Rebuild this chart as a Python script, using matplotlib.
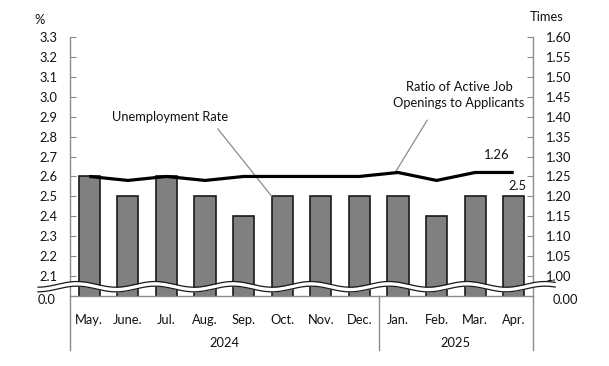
import numpy as np
import matplotlib.pyplot as plt

months = ['May.', 'June.', 'Jul.', 'Aug.', 'Sep.', 'Oct.', 'Nov.', 'Dec.',
          'Jan.', 'Feb.', 'Mar.', 'Apr.']
years = ['2024', '2025']
year_spans = [(0, 8), (8, 12)]
unemployment = [2.6, 2.5, 2.6, 2.5, 2.4, 2.5, 2.5, 2.5, 2.5, 2.4, 2.5, 2.5]
ratio = [1.25, 1.24, 1.25, 1.24, 1.25, 1.25, 1.25, 1.25, 1.26, 1.24, 1.26, 1.26]

plt.rcParams['font.family'] = ['Lato', 'DejaVu Sans']
txt = '#111111'
grey = '#8c8c8c'
fs = 9.3

W, H = 609, 366
fig = plt.figure(figsize=(W / 100, H / 100), dpi=100)
ax = fig.add_axes([70 / W, 1 - 296 / H, 463 / W, 259 / H])
ax2 = ax.twinx()

x = np.arange(len(months))
ax.bar(x, unemployment, width=0.55, color='#808080', edgecolor='#1a1a1a', linewidth=1.2)
ax.set_xlim(-0.5, 11.5)
ax.set_ylim(2.0, 3.3)
ax2.set_ylim(0.95, 1.60)
ax2.plot(x, ratio, color='black', lw=2.3, solid_capstyle='butt')

# y axes (broken: bottom value shown as zero)
lt = np.round(np.arange(2.1, 3.31, 0.1), 1)
ax.set_yticks(lt)
ax.set_yticklabels(['%.1f' % v for v in lt])
rt = np.round(np.arange(1.0, 1.601, 0.05), 2)
ax2.set_yticks(rt)
ax2.set_yticklabels(['%.2f' % v for v in rt])
for a in (ax, ax2):
    a.tick_params(axis='y', direction='in', length=4, color=grey, labelsize=fs,
                  labelcolor=txt, pad=9)
    a.set_xticks([])
    for s in a.spines.values():
        s.set_visible(False)
ax.text(-14 / 463, -4 / 259, '0.0', transform=ax.transAxes, ha='right', va='center',
        fontsize=fs, color=txt)
ax.text(1 + 20 / 463, -4 / 259, '0.00', transform=ax.transAxes, ha='left', va='center',
        fontsize=fs, color=txt)

# axis lines and category box
for xa in (0, 8 / 12, 1):
    ax2.plot([xa, xa], [1, -0.208] if xa != 8 / 12 else [0, -0.208],
             transform=ax2.transAxes, color=grey, lw=1, clip_on=False)
ax2.plot([0, 1], [0, 0], transform=ax2.transAxes, color=grey, lw=1, clip_on=False)

for i, m in enumerate(months):
    ax.text((i + 0.5) / 12, -0.093, m, transform=ax.transAxes, ha='center',
            va='center', fontsize=fs, color=txt)
for yr, (a, b) in zip(years, year_spans):
    ax.text((a + b) / 24, -0.181, yr, transform=ax.transAxes, ha='center',
            va='center', fontsize=fs, color=txt)

# break marker
xs = np.linspace(-0.069, 1.048, 400)
ph = (xs - 7 / 463) / (78 / 463) * 2 * np.pi
yc = 0.036 + 0.011 * np.cos(ph)
ax2.fill_between(xs, yc - 0.009, yc + 0.009, color='white', transform=ax2.transAxes,
                 clip_on=False, zorder=5, lw=0)
for off in (-0.009, 0.009):
    ax2.plot(xs, yc + off, color='#1a1a1a', lw=0.9, transform=ax2.transAxes,
             clip_on=False, zorder=6)

# labels and leaders
ax.annotate('Unemployment Rate', xy=(4.73, 2.5), xytext=(2.09, 2.90),
            ha='center', va='center', fontsize=fs, color=txt,
            arrowprops=dict(arrowstyle='-', color=grey, lw=0.9,
                            shrinkA=3, shrinkB=0, relpos=(0.87, 0.0)))
ax.annotate('Ratio of Active Job\nOpenings to Applicants', xy=(7.93, 2.62),
            xytext=(9.58, 3.01), ha='center', va='center', fontsize=fs,
            color=txt, linespacing=1.45,
            arrowprops=dict(arrowstyle='-', color=grey, lw=0.9,
                            shrinkA=7, shrinkB=0, relpos=(0.31, 0.0)))
ax.text(10.57, 2.708, '%.2f' % ratio[-1], ha='center', va='center', fontsize=fs, color=txt)
ax.text(11.09, 2.552, '%.1f' % unemployment[-1], ha='center', va='center', fontsize=fs, color=txt)

fig.text(40 / W, 1 - 20 / H, '%', ha='center', va='center', fontsize=fs, color=txt)
fig.text(547 / W, 1 - 17 / H, 'Times', ha='center', va='center', fontsize=fs, color=txt)

fig.savefig('out.png', dpi=100)
